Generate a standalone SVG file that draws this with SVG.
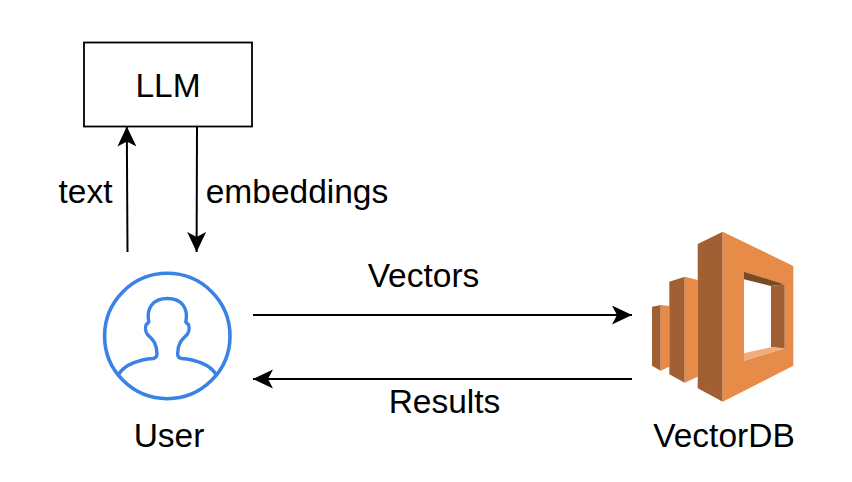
<svg xmlns="http://www.w3.org/2000/svg" width="852" height="482" viewBox="0 0 852 482">
<style>
text{font-family:"Liberation Sans",Arial,sans-serif;font-size:33.5px;fill:#000;text-anchor:middle}
.c{fill:none;stroke:#000;stroke-width:2;marker-end:url(#a)}
.l{fill:#e78b48}.d{fill:#a06034}
</style>
<defs><marker id="a" markerUnits="userSpaceOnUse" markerWidth="22" markerHeight="20" refX="20" refY="9.5" orient="auto"><path d="M0,0L20,9.5L0,19L5,9.5Z" fill="#000"/></marker></defs>
<rect width="852" height="482" fill="#fff"/>
<g id="llm"><rect x="84" y="42.500" width="168" height="84" fill="#fff" stroke="#000" stroke-width="1.800"/><text x="168" y="97">LLM</text></g>
<g id="user">
<circle cx="167.300" cy="336" r="62.700" fill="none" stroke="#3b82e6" stroke-width="3.600"/>
<path d="M118.500,374.500C125,364 140,359.500 153,358.500Q157,358 157,354C157,344 153,340 150,337C146,334 144.500,329 146,325C147,323 148.500,323 148.800,322C146,308 153,298.500 167.300,298.500C181.600,298.500 188.600,308 185.800,322C186,323 187.600,323 188.600,325C190,329 188.600,334 184.600,337C181.600,340 177.600,344 177.600,354Q177.600,358 181.600,358.500C194.600,359.500 209.600,364 216.100,374.500" fill="none" stroke="#3b82e6" stroke-width="3.400" stroke-linejoin="round"/>
<text x="169" y="447">User</text></g>
<g id="vectordb">
<path class="d" d="M652,306.700L660.700,305V370.700L652,365.700Z"/>
<path class="l" d="M660.700,305L669.300,306V366.700L660.700,370.700Z"/>
<path class="d" d="M669.300,281.700L684.700,276.700V382.700L669.300,374.300Z"/>
<path class="l" d="M684.700,276.700L697.700,280V376.700L684.700,382.700Z"/>
<path class="d" d="M697.700,244L722.700,231.700V401.700L697.700,388.300Z"/>
<path class="l" fill-rule="evenodd" d="M722.700,231.700L793.300,266V365.700L722.700,401.700ZM744,271.700V360.700L784.700,348.300V284.300Z"/>
<path fill="#7a4a22" d="M744,271.700L784.700,284.300L771,286L744,279.300Z"/>
<path class="d" d="M771,286L784.700,284.300V348.300L771,347.300Z"/>
<path fill="#f0ac7c" d="M744,353.300L771,347.300L784.700,348.300L744,360.700Z"/>
<text x="724" y="447">VectorDB</text></g>
<g id="connectors">
<path class="c" d="M127.500,252L126.800,126.500"/>
<path class="c" d="M197,126.500L196.600,252"/>
<path class="c" d="M253,315H632"/>
<path class="c" d="M632,379H253"/>
</g>
<g id="labels">
<text x="85.500" y="203">text</text>
<text x="297" y="203">embeddings</text>
<text x="423.500" y="287">Vectors</text>
<text x="444.500" y="413">Results</text>
</g>
</svg>
